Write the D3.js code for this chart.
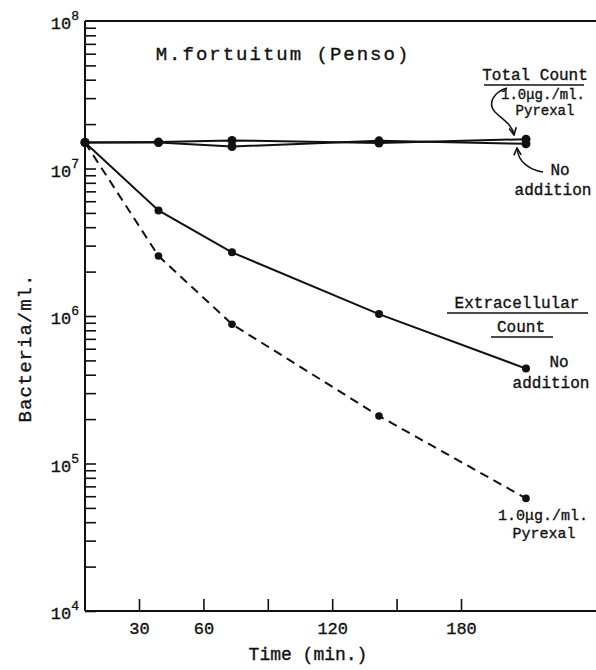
<!DOCTYPE html>
<html>
<head>
<meta charset="utf-8">
<script src="https://cdn.jsdelivr.net/npm/d3@7"></script>
<style>
  body { margin: 0; background: #fff; }
  text { font-family: "Liberation Mono", "DejaVu Sans Mono", monospace; fill: #111; stroke: #111; stroke-width: 0.35px; }
</style>
</head>
<body>
<div id="chart-area"></div>
<script>

// Data
var times = [0, 30, 60, 120, 180];
var totalPyrexal = [1.5e7, 1.51e7, 1.55e7, 1.49e7, 1.58e7];
var totalNoAddition = [1.5e7, 1.5e7, 1.41e7, 1.54e7, 1.47e7];
var extraNoAddition = [1.5e7, 5.2e6, 2.7e6, 1.03e6, 4.4e5];
var extraPyrexal = [1.5e7, 2.55e6, 8.8e5, 2.1e5, 5.8e4];

var xTickValues = [30, 60, 90, 120, 150, 180];
var xTickLabels = ["30", "60", "", "120", "", "180"];
var yDecades = [4, 5, 6, 7, 8];

// SVG Size
var width = 596,
    height = 670;

var svg = d3.select("#chart-area").append("svg")
    .attr("width", width)
    .attr("height", height);

// Plot edges
var plotLeft = 85, plotRight = 596, plotTop = 21, plotBottom = 611;

// data points sit on this scale
var x = d3.scaleLinear()
    .domain([0, 180])
    .range([plotLeft, 526]);

// the printed time ticks are offset from the points in the original figure
var xTicks = d3.scaleLinear()
    .domain([30, 180])
    .range([139, 461]);

var y = d3.scaleLog()
    .domain([1e4, 1e8])
    .range([plotBottom, plotTop]);

// Frame lines
svg.append("line").attr("x1", plotLeft).attr("x2", plotLeft).attr("y1", plotTop).attr("y2", plotBottom)
    .attr("stroke", "#111").attr("stroke-width", 2);
svg.append("line").attr("x1", plotLeft).attr("x2", plotRight).attr("y1", plotTop).attr("y2", plotTop)
    .attr("stroke", "#111").attr("stroke-width", 2);
svg.append("line").attr("x1", plotLeft).attr("x2", plotRight).attr("y1", plotBottom).attr("y2", plotBottom)
    .attr("stroke", "#111").attr("stroke-width", 2);

// Y ticks (every 1..9 x 10^n)
var yTickValues = [];
yDecades.slice(0, -1).forEach(function(e) {
  for (var m = 1; m <= 9; m++) yTickValues.push(m * Math.pow(10, e));
});

var yAxis = d3.axisLeft(y)
    .tickValues(yTickValues)
    .tickSize(-11)
    .tickSizeOuter(0)
    .tickFormat("");

var gy = svg.append("g")
    .attr("transform", "translate(" + plotLeft + ",0)")
    .call(yAxis);
gy.select(".domain").remove();
gy.selectAll(".tick line").attr("stroke", "#111").attr("stroke-width", 1.6);

// Y labels with superscripts
yDecades.forEach(function(e) {
  var t = svg.append("text")
      .attr("x", 79)
      .attr("y", y(Math.pow(10, e)) + 8)
      .attr("text-anchor", "end")
      .style("font-size", "17px");
  t.append("tspan").text("10");
  t.append("tspan").attr("dy", -9).style("font-size", "13px").text(e);
});

// X ticks
var xAxis = d3.axisBottom(xTicks)
    .tickValues(xTickValues)
    .tickSize(-12)
    .tickSizeOuter(0)
    .tickFormat(function(d, i) { return xTickLabels[i]; });

var gx = svg.append("g")
    .attr("transform", "translate(0," + plotBottom + ")")
    .call(xAxis);
gx.select(".domain").remove();
gx.selectAll(".tick line").attr("stroke", "#111").attr("stroke-width", 1.6);
gx.selectAll(".tick text")
    .attr("y", 23)
    .attr("dy", 0)
    .style("font-size", "17px")
    .style("font-family", "'Liberation Mono', monospace")
    .attr("fill", "#111");

// Axis titles
svg.append("text")
    .attr("x", 308).attr("y", 660)
    .attr("text-anchor", "middle")
    .style("font-size", "18px")
    .text("Time (min.)");

svg.append("text")
    .attr("transform", "translate(31,348) rotate(-90)")
    .attr("text-anchor", "middle")
    .style("font-size", "19px")
    .style("letter-spacing", "1px")
    .text("Bacteria/ml.");

svg.append("text")
    .attr("x", 283).attr("y", 60)
    .attr("text-anchor", "middle")
    .style("font-size", "19px")
    .style("letter-spacing", "2px")
    .text("M.fortuitum (Penso)");

// Lines
var line = d3.line()
    .x(function(d) { return x(d[0]); })
    .y(function(d) { return y(d[1]); });

var series = [
  { values: totalPyrexal, dash: null, r: 4.5 },
  { values: totalNoAddition, dash: null, r: 4.5 },
  { values: extraNoAddition, dash: null, r: 4 },
  { values: extraPyrexal, dash: "9,6", r: 3.8 }
];

series.forEach(function(s) {
  var pts = times.map(function(t, i) { return [t, s.values[i]]; });
  svg.append("path")
      .datum(pts)
      .attr("d", line)
      .attr("fill", "none")
      .attr("stroke", "#111")
      .attr("stroke-width", 2)
      .attr("stroke-dasharray", s.dash);
  svg.selectAll(null)
      .data(pts)
      .enter()
      .append("circle")
      .attr("cx", function(d) { return x(d[0]); })
      .attr("cy", function(d) { return y(d[1]); })
      .attr("r", s.r)
      .attr("fill", "#111");
});

// Annotations
function label(txt, cx, by, size) {
  return svg.append("text")
      .attr("x", cx).attr("y", by)
      .attr("text-anchor", "middle")
      .style("font-size", (size || 16) + "px")
      .text(txt);
}
function underline(x1, x2, yy) {
  svg.append("line").attr("x1", x1).attr("x2", x2).attr("y1", yy).attr("y2", yy)
      .attr("stroke", "#111").attr("stroke-width", 1.5);
}

label("Total Count", 535, 80, 16);
underline(484, 584, 85);
label("1.0\u03bcg./ml.", 543, 99, 14);
label("Pyrexal", 545, 115, 14);
label("No", 560, 175, 16);
label("addition", 553, 195, 16);

label("Extracellular", 517, 308, 16);
underline(447, 588, 313);
label("Count", 521, 332, 16);
underline(491, 553, 337);
label("No", 559, 367, 16);
label("addition", 551, 388, 16);

label("1.0\u03bcg./ml.", 543, 520, 15);
label("Pyrexal", 544, 538, 15);

// Arrows
svg.append("defs").append("marker")
    .attr("id", "arrow")
    .attr("viewBox", "0 0 10 10")
    .attr("refX", 9).attr("refY", 5)
    .attr("markerWidth", 6).attr("markerHeight", 6)
    .attr("orient", "auto")
  .append("path")
    .attr("d", "M1,1 L9,5 L1,9")
    .attr("fill", "none")
    .attr("stroke", "#111")
    .attr("stroke-width", 1.8);

svg.append("path")
    .attr("d", "M507,88 C494,92 487,103 495,112 C503,120 512,124 514,135")
    .attr("fill", "none").attr("stroke", "#111").attr("stroke-width", 1.5)
    .attr("marker-end", "url(#arrow)");

svg.append("path")
    .attr("d", "M543,172 C531,170 518,163 517,148")
    .attr("fill", "none").attr("stroke", "#111").attr("stroke-width", 1.5)
    .attr("marker-end", "url(#arrow)");

</script>
</body>
</html>
